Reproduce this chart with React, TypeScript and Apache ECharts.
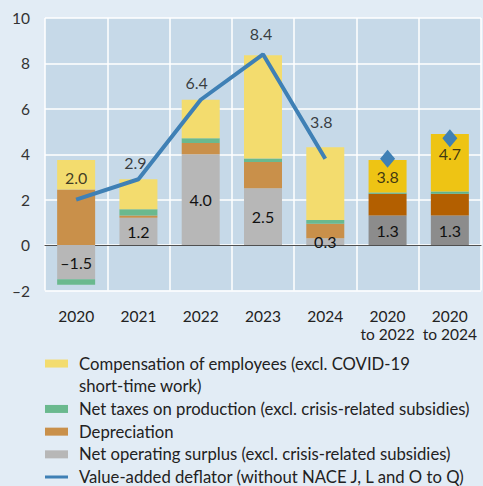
import React, { useEffect, useRef } from "react";
import * as echarts from "echarts";

const categories = ["2020", "2021", "2022", "2023", "2024", "2020\nto 2022", "2020\nto 2024"];
const netOperatingSurplus = [-1.5, 1.2, 4.0, 2.5, 0.3, 1.3, 1.3];
const depreciation = [2.45, 0.1, 0.5, 1.16, 0.64, 0.96, 0.96];
const netTaxes = [-0.25, 0.28, 0.2, 0.15, 0.17, 0.06, 0.1];
const compensation = [1.3, 1.32, 1.7, 4.55, 3.2, 1.43, 2.53];
const deflatorYearly = [2.0, 2.9, 6.4, 8.4, 3.8, null, null];
const deflatorCumulative = [null, null, null, null, null, 3.8, 4.7];
const deflatorLabels = [2.0, 2.9, 6.4, 8.4, 3.8, 3.8, 4.7];
const yTicks = { min: -2, max: 10, interval: 2 };

const NAME_COMP = "Compensation of employees (excl. COVID-19 short-time work)";
const NAME_TAX = "Net taxes on production (excl. crisis-related subsidies)";
const NAME_DEP = "Depreciation";
const NAME_NOS = "Net operating surplus (excl. crisis-related subsidies)";
const NAME_DEF = "Value-added deflator (without NACE J, L and O to Q)";

const light = { comp: "#f3dc6e", tax: "#6ab98e", dep: "#c9904a", nos: "#b7b7b7" };
const dark = { comp: "#eec414", tax: "#5fb58a", dep: "#b35f00", nos: "#8c8c8c" };
const lineColor = "#3f80b5";
const labelOffsets: [number, number][] = [
  [0, -22],
  [-3, -17],
  [-4, -17],
  [-2, -21],
  [-4, -37],
  [0, 18],
  [0, 15],
];

const FONT = "Lato";

function colored(values: number[], key: keyof typeof light) {
  return values.map((v, i) => ({
    value: v,
    itemStyle: { color: i >= 5 ? dark[key] : light[key] },
  }));
}

function fmt(v: number) {
  return v < 0 ? "\u2013" + Math.abs(v).toFixed(1) : v.toFixed(1);
}

export default function App() {
  const ref = useRef<HTMLDivElement>(null);
  useEffect(() => {
    document.body.style.margin = "0";
    const chart = echarts.init(ref.current!, null, { renderer: "svg" });
    chart.setOption({
      animation: false,
      backgroundColor: "#e2ecf5",
      textStyle: { fontFamily: FONT },
      grid: {
        show: true,
        backgroundColor: "#c6d9e8",
        borderWidth: 0,
        left: 45,
        right: 2,
        top: 18,
        bottom: 195.5,
      },
      legend: {
        orient: "vertical",
        left: 45,
        top: 329.5,
        padding: 0,
        itemGap: 0,
        itemWidth: 23,
        itemHeight: 8,
        selectedMode: false,
        textStyle: {
          fontFamily: FONT,
          fontSize: 16.7,
          lineHeight: 22.7,
          color: "#222",
          padding: [0, 0, 0, 6],
        },
        formatter: (name: string) =>
          name === NAME_COMP
            ? "\nCompensation of employees (excl. COVID-19\nshort-time work)"
            : name,
        data: [
          { name: NAME_COMP, icon: "rect", itemStyle: { color: light.comp } },
          { name: NAME_TAX, icon: "rect", itemStyle: { color: light.tax } },
          { name: NAME_DEP, icon: "rect", itemStyle: { color: light.dep } },
          { name: NAME_NOS, icon: "rect", itemStyle: { color: light.nos } },
          {
            name: NAME_DEF,
            icon: "path://M0,0H0.01V0.01H0Z M0,2.5H23V5.5H0Z M22.99,7.99H23V8H22.99Z",
            itemStyle: { color: lineColor },
          },
        ],
      },
      xAxis: {
        type: "category",
        data: categories,
        axisTick: { show: false },
        axisLine: { onZero: true, lineStyle: { color: "#505050", width: 1.2 } },
        splitLine: { show: true, lineStyle: { color: "#ffffff", width: 1.5 } },
        axisLabel: {
          fontFamily: FONT,
          fontSize: 15.5,
          lineHeight: 18,
          color: "#222",
          margin: 16,
          interval: 0,
        },
      },
      yAxis: {
        type: "value",
        min: yTicks.min,
        max: yTicks.max,
        interval: yTicks.interval,
        axisLine: { show: false },
        axisTick: { show: false },
        splitLine: { show: true, lineStyle: { color: "#ffffff", width: 1.5 } },
        axisLabel: {
          fontFamily: FONT,
          fontSize: 15.5,
          color: "#333",
          margin: 15,
          formatter: (v: number) => (v < 0 ? "\u2013" + Math.abs(v) : String(v)),
        },
      },
      series: [
        {
          name: NAME_NOS,
          type: "bar",
          stack: "total",
          barWidth: 38,
          data: colored(netOperatingSurplus, "nos"),
          itemStyle: { color: light.nos },
          label: {
            show: true,
            position: "inside",
            fontFamily: FONT,
            fontSize: 16,
            color: "#111",
            formatter: (p: any) => fmt(p.value),
          },
        },
        {
          name: NAME_DEP,
          type: "bar",
          stack: "total",
          barWidth: 38,
          data: colored(depreciation, "dep"),
          itemStyle: { color: light.dep },
        },
        {
          name: NAME_TAX,
          type: "bar",
          stack: "total",
          barWidth: 38,
          data: colored(netTaxes, "tax"),
          itemStyle: { color: light.tax },
        },
        {
          name: NAME_COMP,
          type: "bar",
          stack: "total",
          barWidth: 38,
          data: colored(compensation, "comp"),
          itemStyle: { color: light.comp },
        },
        {
          name: NAME_DEF,
          type: "line",
          data: deflatorYearly,
          symbol: "none",
          connectNulls: false,
          lineStyle: { color: lineColor, width: 4 },
          itemStyle: { color: lineColor },
          z: 5,
        },
        {
          name: "deflatorCumulative",
          type: "scatter",
          data: deflatorCumulative,
          symbol: "diamond",
          symbolSize: [15, 18],
          itemStyle: { color: lineColor, opacity: 1 },
          z: 6,
        },
        {
          name: "deflatorLabels",
          type: "scatter",
          symbol: "circle",
          symbolSize: 1,
          itemStyle: { color: "rgba(0,0,0,0)" },
          data: deflatorLabels.map((v, i) => ({
            value: v,
            label: { offset: labelOffsets[i] },
          })),
          label: {
            show: true,
            position: "inside",
            fontFamily: FONT,
            fontSize: 16,
            color: "#111",
            formatter: (p: any) => fmt(p.value),
          },
          z: 7,
        },
      ],
    });
    return () => chart.dispose();
  }, []);
  return (
    <div
      ref={ref}
      style={{ position: "fixed", left: 0, top: 0, width: 483, height: 486 }}
    />
  );
}
